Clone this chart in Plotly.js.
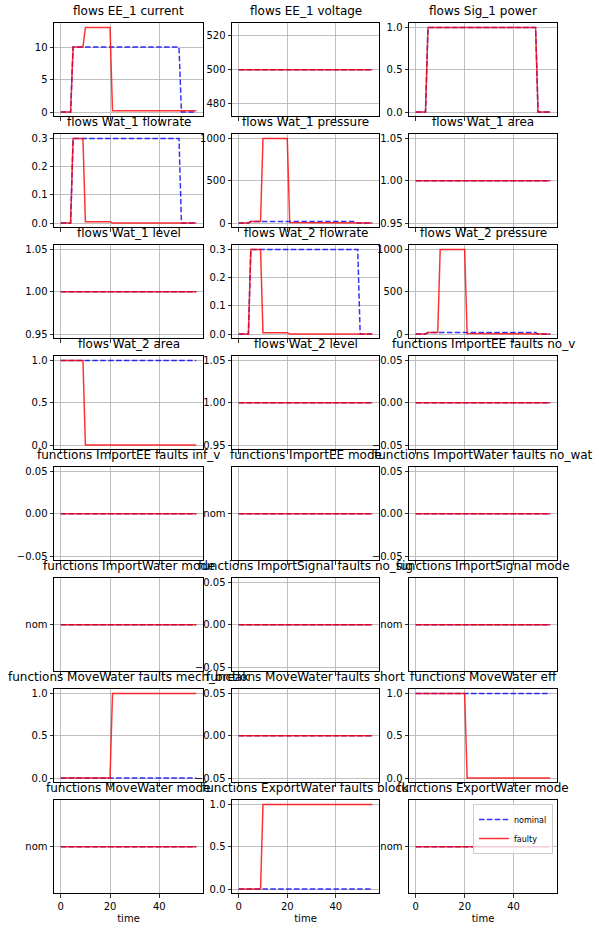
<!DOCTYPE html>
<html><head><meta charset="utf-8">
<script src="https://cdn.plot.ly/plotly-3.0.1.min.js"></script>
<style>html,body{margin:0;padding:0;background:#fff}</style>
</head><body><div id="chart" style="width:599px;height:931px"></div>
<script>
// ---------------- data ----------------
const time = [0,1,2,3,4,5,6,7,8,9,10,11,12,13,14,15,16,17,18,19,20,21,22,23,24,25,26,27,28,29,30,31,32,33,34,35,36,37,38,39,40,41,42,43,44,45,46,47,48,49,50,51,52,53,54,55];

const ee1CurrentNominal = [0,0,0,0,0,10,10,10,10,10, 10,10,10,10,10,10,10,10,10,10, 10,10,10,10,10,10,10,10,10,10, 10,10,10,10,10,10,10,10,10,10, 10,10,10,10,10,10,10,10,10,0, 0,0,0,0,0,0];
const ee1CurrentFaulty  = [0,0,0,0,0,10,10,10,10,10, 13,13,13,13,13,13,13,13,13,13, 13,0.2,0.2,0.2,0.2,0.2,0.2,0.2,0.2,0.2, 0.2,0.2,0.2,0.2,0.2,0.2,0.2,0.2,0.2,0.2, 0.2,0.2,0.2,0.2,0.2,0.2,0.2,0.2,0.2,0.2, 0.2,0.2,0.2,0.2,0.2,0.2];
const ee1Voltage = [500,500,500,500,500,500,500,500,500,500, 500,500,500,500,500,500,500,500,500,500, 500,500,500,500,500,500,500,500,500,500, 500,500,500,500,500,500,500,500,500,500, 500,500,500,500,500,500,500,500,500,500, 500,500,500,500,500,500];
const sig1Power = [0,0,0,0,0,1,1,1,1,1, 1,1,1,1,1,1,1,1,1,1, 1,1,1,1,1,1,1,1,1,1, 1,1,1,1,1,1,1,1,1,1, 1,1,1,1,1,1,1,1,1,1, 0,0,0,0,0,0];
const wat1FlowNominal = [0,0,0,0,0,0.3,0.3,0.3,0.3,0.3, 0.3,0.3,0.3,0.3,0.3,0.3,0.3,0.3,0.3,0.3, 0.3,0.3,0.3,0.3,0.3,0.3,0.3,0.3,0.3,0.3, 0.3,0.3,0.3,0.3,0.3,0.3,0.3,0.3,0.3,0.3, 0.3,0.3,0.3,0.3,0.3,0.3,0.3,0.3,0.3,0, 0,0,0,0,0,0];
const wat1FlowFaulty  = [0,0,0,0,0,0.3,0.3,0.3,0.3,0.3, 0.005,0.005,0.005,0.005,0.005,0.005,0.005,0.005,0.005,0.005, 0.005,0,0,0,0,0,0,0,0,0, 0,0,0,0,0,0,0,0,0,0, 0,0,0,0,0,0,0,0,0,0, 0,0,0,0,0,0];
const wat1PressNominal = [0,0,0,0,0,18,18,18,18,18, 18,18,18,18,18,18,18,18,18,18, 18,18,18,18,18,18,18,18,18,18, 18,18,18,18,18,18,18,18,18,18, 18,18,18,18,18,18,18,18,18,0, 0,0,0,0,0,0];
const wat1PressFaulty  = [0,0,0,0,0,18,18,18,18,18, 1000,1000,1000,1000,1000,1000,1000,1000,1000,1000, 1000,8,8,8,8,8,8,8,8,8, 8,8,8,8,8,8,8,8,8,8, 8,8,8,8,8,8,8,8,8,0, 0,0,0,0,0,0];
const wat2FlowNominal = [0,0,0,0,0,0.3,0.3,0.3,0.3,0.3, 0.3,0.3,0.3,0.3,0.3,0.3,0.3,0.3,0.3,0.3, 0.3,0.3,0.3,0.3,0.3,0.3,0.3,0.3,0.3,0.3, 0.3,0.3,0.3,0.3,0.3,0.3,0.3,0.3,0.3,0.3, 0.3,0.3,0.3,0.3,0.3,0.3,0.3,0.3,0.3,0.3, 0,0,0,0,0,0];
const wat2FlowFaulty  = [0,0,0,0,0,0.3,0.3,0.3,0.3,0.3, 0.005,0.005,0.005,0.005,0.005,0.005,0.005,0.005,0.005,0.005, 0.005,0,0,0,0,0,0,0,0,0, 0,0,0,0,0,0,0,0,0,0, 0,0,0,0,0,0,0,0,0,0, 0,0,0,0,0,0];
const wat2PressNominal = [0,0,0,0,0,18,18,18,18,18, 18,18,18,18,18,18,18,18,18,18, 18,18,18,18,18,18,18,18,18,18, 18,18,18,18,18,18,18,18,18,18, 18,18,18,18,18,18,18,18,18,18, 0,0,0,0,0,0];
const wat2PressFaulty  = [0,0,0,0,0,18,18,18,18,18, 1000,1000,1000,1000,1000,1000,1000,1000,1000,1000, 1000,8,8,8,8,8,8,8,8,8, 8,8,8,8,8,8,8,8,8,8, 8,8,8,8,8,8,8,8,8,8, 0,0,0,0,0,0];
const wat2AreaFaulty = [1,1,1,1,1,1,1,1,1,1, 0,0,0,0,0,0,0,0,0,0, 0,0,0,0,0,0,0,0,0,0, 0,0,0,0,0,0,0,0,0,0, 0,0,0,0,0,0,0,0,0,0, 0,0,0,0,0,0];
const mechBreakFaulty = [0,0,0,0,0,0,0,0,0,0, 0,0,0,0,0,0,0,0,0,0, 0,1,1,1,1,1,1,1,1,1, 1,1,1,1,1,1,1,1,1,1, 1,1,1,1,1,1,1,1,1,1, 1,1,1,1,1,1];
const effFaulty = [1,1,1,1,1,1,1,1,1,1, 1,1,1,1,1,1,1,1,1,1, 1,0,0,0,0,0,0,0,0,0, 0,0,0,0,0,0,0,0,0,0, 0,0,0,0,0,0,0,0,0,0, 0,0,0,0,0,0];
const blockFaulty = [0,0,0,0,0,0,0,0,0,0, 1,1,1,1,1,1,1,1,1,1, 1,1,1,1,1,1,1,1,1,1, 1,1,1,1,1,1,1,1,1,1, 1,1,1,1,1,1,1,1,1,1, 1,1,1,1,1,1];
const allZeros = [0,0,0,0,0,0,0,0,0,0, 0,0,0,0,0,0,0,0,0,0, 0,0,0,0,0,0,0,0,0,0, 0,0,0,0,0,0,0,0,0,0, 0,0,0,0,0,0,0,0,0,0, 0,0,0,0,0,0];
const allOnes = [1,1,1,1,1,1,1,1,1,1, 1,1,1,1,1,1,1,1,1,1, 1,1,1,1,1,1,1,1,1,1, 1,1,1,1,1,1,1,1,1,1, 1,1,1,1,1,1,1,1,1,1, 1,1,1,1,1,1];
const modeNom = ['nom','nom','nom','nom','nom','nom','nom','nom','nom','nom', 'nom','nom','nom','nom','nom','nom','nom','nom','nom','nom', 'nom','nom','nom','nom','nom','nom','nom','nom','nom','nom', 'nom','nom','nom','nom','nom','nom','nom','nom','nom','nom', 'nom','nom','nom','nom','nom','nom','nom','nom','nom','nom', 'nom','nom','nom','nom','nom','nom'];
const xTicks = [0, 20, 40];
const seriesNames = ['nominal', 'faulty'];

// -------------- panel setup --------------
const Y_CUR = {range:[-0.65,13.65], dtick:5, fmt:'d'};
const Y_V   = {range:[472.5,527.5], dtick:20, fmt:'d'};
const Y_01  = {range:[-0.05,1.05], dtick:0.5, fmt:'.1f'};
const Y_FL  = {range:[-0.015,0.315], dtick:0.1, fmt:'.1f'};
const Y_P   = {range:[-50,1050], dtick:500, fmt:'d'};
const Y_1   = {range:[0.945,1.055], dtick:0.05, fmt:'.2f'};
const Y_0   = {range:[-0.055,0.055], dtick:0.05, fmt:'.2f'};
const Y_CAT = {cat:true};

const panels = [
  ['flows EE_1 current', ee1CurrentNominal, ee1CurrentFaulty, Y_CUR],
  ['flows EE_1 voltage', ee1Voltage, ee1Voltage, Y_V],
  ['flows Sig_1 power', sig1Power, sig1Power, Y_01],
  ['flows Wat_1 flowrate', wat1FlowNominal, wat1FlowFaulty, Y_FL],
  ['flows Wat_1 pressure', wat1PressNominal, wat1PressFaulty, Y_P],
  ['flows Wat_1 area', allOnes, allOnes, Y_1],
  ['flows Wat_1 level', allOnes, allOnes, Y_1],
  ['flows Wat_2 flowrate', wat2FlowNominal, wat2FlowFaulty, Y_FL],
  ['flows Wat_2 pressure', wat2PressNominal, wat2PressFaulty, Y_P],
  ['flows Wat_2 area', allOnes, wat2AreaFaulty, Y_01],
  ['flows Wat_2 level', allOnes, allOnes, Y_1],
  ['functions ImportEE faults no_v', allZeros, allZeros, Y_0],
  ['functions ImportEE faults inf_v', allZeros, allZeros, Y_0],
  ['functions ImportEE mode', modeNom, modeNom, Y_CAT],
  ['functions ImportWater faults no_wat', allZeros, allZeros, Y_0],
  ['functions ImportWater mode', modeNom, modeNom, Y_CAT],
  ['functions ImportSignal faults no_sig', allZeros, allZeros, Y_0],
  ['functions ImportSignal mode', modeNom, modeNom, Y_CAT],
  ['functions MoveWater faults mech_break', allZeros, mechBreakFaulty, Y_01],
  ['functions MoveWater faults short', allZeros, allZeros, Y_0],
  ['functions MoveWater eff', allOnes, effFaulty, Y_01],
  ['functions MoveWater mode', modeNom, modeNom, Y_CAT],
  ['functions ExportWater faults block', allZeros, blockFaulty, Y_01],
  ['functions ExportWater mode', modeNom, modeNom, Y_CAT]
];

const W = 599, H = 931;
const colX = [[54,203],[232,379],[409,557]];
const rowTop = 23.3, rowH = 93, rowPitch = 111;
const FONT = 'DejaVu Sans, sans-serif';

const traces = [];
const layout = {
  width: W, height: H,
  margin: {l:0, r:0, t:0, b:0},
  paper_bgcolor: '#fff', plot_bgcolor: '#fff',
  font: {family: FONT, size: 10, color: '#000'},
  showlegend: true,
  legend: {
    x: 553/W, xanchor: 'right', y: 1 - 804/H, yanchor: 'top',
    bgcolor: 'rgba(255,255,255,0.8)', bordercolor: '#cccccc', borderwidth: 1,
    font: {family: FONT, size: 8}, tracegroupgap: 0, itemwidth: 30
  },
  annotations: []
};

const axisCommon = {
  ticks: 'outside', ticklen: 3.5, tickwidth: 0.8, tickcolor: '#000',
  showline: true, mirror: true, linecolor: '#000', linewidth: 1,
  showgrid: true, gridcolor: '#b0b0b0', gridwidth: 0.8, zeroline: false,
  tickfont: {family: FONT, size: 10, color: '#000'}, fixedrange: true
};

panels.forEach((p, i) => {
  const [title, nomY, faultY, ycfg] = p;
  const row = Math.floor(i / 3), col = i % 3;
  const sfx = i === 0 ? '' : String(i + 1);
  const top = rowTop + row * rowPitch, bot = top + rowH;
  const [x0, x1] = colX[col];
  const last = i === panels.length - 1;

  traces.push({
    x: time, y: nomY, type: 'scatter', mode: 'lines', name: seriesNames[0],
    xaxis: 'x' + sfx, yaxis: 'y' + sfx, showlegend: last, hoverinfo: 'skip',
    line: {color: 'rgba(0,0,255,0.8)', width: 1.5, dash: '5.5px,2.4px'}
  });
  traces.push({
    x: time, y: faultY, type: 'scatter', mode: 'lines', name: seriesNames[1],
    xaxis: 'x' + sfx, yaxis: 'y' + sfx, showlegend: last, hoverinfo: 'skip',
    line: {color: 'rgba(255,0,0,0.8)', width: 1.5}
  });

  const xa = Object.assign({}, axisCommon, {
    domain: [x0 / W, x1 / W], anchor: 'y' + sfx,
    range: [-2.75, 57.75], tickmode: 'array', tickvals: xTicks,
    showticklabels: row === 7
  });
  if (row === 7) xa.title = {text: 'time', font: {family: FONT, size: 10}, standoff: 4};
  const ya = Object.assign({}, axisCommon, {
    domain: [1 - bot / H, 1 - top / H], anchor: 'x' + sfx
  });
  if (ycfg.cat) {
    ya.type = 'category';
    ya.range = [-0.055, 0.055];
  } else {
    ya.range = ycfg.range;
    ya.tickmode = 'linear';
    ya.tick0 = 0;
    ya.dtick = ycfg.dtick;
    ya.tickformat = ycfg.fmt;
  }
  layout['xaxis' + sfx] = xa;
  layout['yaxis' + sfx] = ya;

  layout.annotations.push({
    text: title, xref: 'paper', yref: 'paper',
    x: (x0 + x1) / 2 / W, y: 1 - top / H, xanchor: 'center', yanchor: 'bottom',
    yshift: 3, showarrow: false,
    font: {family: FONT, size: 12, color: '#000'}
  });
});

Plotly.newPlot('chart', traces, layout, {displayModeBar: false, staticPlot: true});
</script>
</body></html>
